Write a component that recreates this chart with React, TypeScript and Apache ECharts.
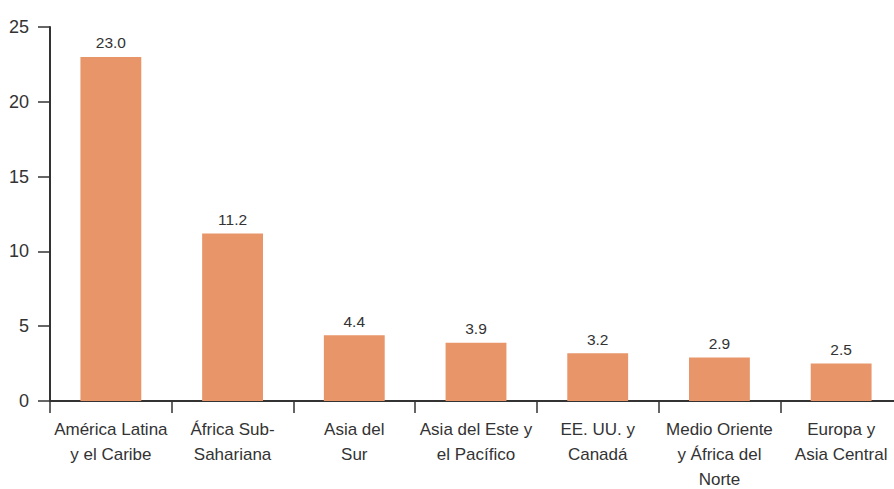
import React, { useEffect, useRef } from "react";
import * as echarts from "echarts";

const categories = [
  "América Latina\ny el Caribe",
  "África Sub-\nSahariana",
  "Asia del\nSur",
  "Asia del Este y\nel Pacífico",
  "EE. UU. y\nCanadá",
  "Medio Oriente\ny África del\nNorte",
  "Europa y\nAsia Central",
];
const values = [23.0, 11.2, 4.4, 3.9, 3.2, 2.9, 2.5];
const yTicks = { min: 0, max: 25, interval: 5 };

const FONT = "'Liberation Sans', Arial, sans-serif";

export default function App() {
  const ref = useRef<HTMLDivElement>(null);
  useEffect(() => {
    if (!ref.current) return;
    const chart = echarts.init(ref.current, null, { renderer: "svg" });
    chart.setOption({
      animation: false,
      grid: { left: 50, top: 27, width: 852, height: 374, outerBoundsMode: "none", containLabel: false },
      xAxis: {
        type: "category",
        data: categories,
        axisLine: { lineStyle: { color: "#333", width: 2 } },
        axisTick: { show: true, length: 12, lineStyle: { color: "#333", width: 1.5 } },
        axisLabel: {
          color: "#333",
          fontFamily: FONT,
          fontSize: 17,
          lineHeight: 25,
          margin: 16,
          interval: 0,
        },
      },
      yAxis: {
        type: "value",
        min: yTicks.min,
        max: yTicks.max,
        interval: yTicks.interval,
        splitLine: { show: false },
        axisLine: { show: true, lineStyle: { color: "#333", width: 2 } },
        axisTick: { show: true, length: 12, lineStyle: { color: "#333", width: 1.5 } },
        axisLabel: { color: "#333", fontFamily: FONT, fontSize: 18, margin: 21 },
      },
      series: [
        {
          type: "bar",
          data: values,
          barWidth: "50%",
          itemStyle: { color: "#E9956A" },
          label: {
            show: true,
            position: "top",
            distance: 6,
            color: "#333",
            fontFamily: FONT,
            fontSize: 15.5,
            formatter: (p: any) => Number(p.value).toFixed(1),
          },
        },
      ],
    });
    return () => chart.dispose();
  }, []);
  return (
    <div
      ref={ref}
      style={{ position: "fixed", left: 0, top: 0, width: 894, height: 489, background: "#fff" }}
    />
  );
}
